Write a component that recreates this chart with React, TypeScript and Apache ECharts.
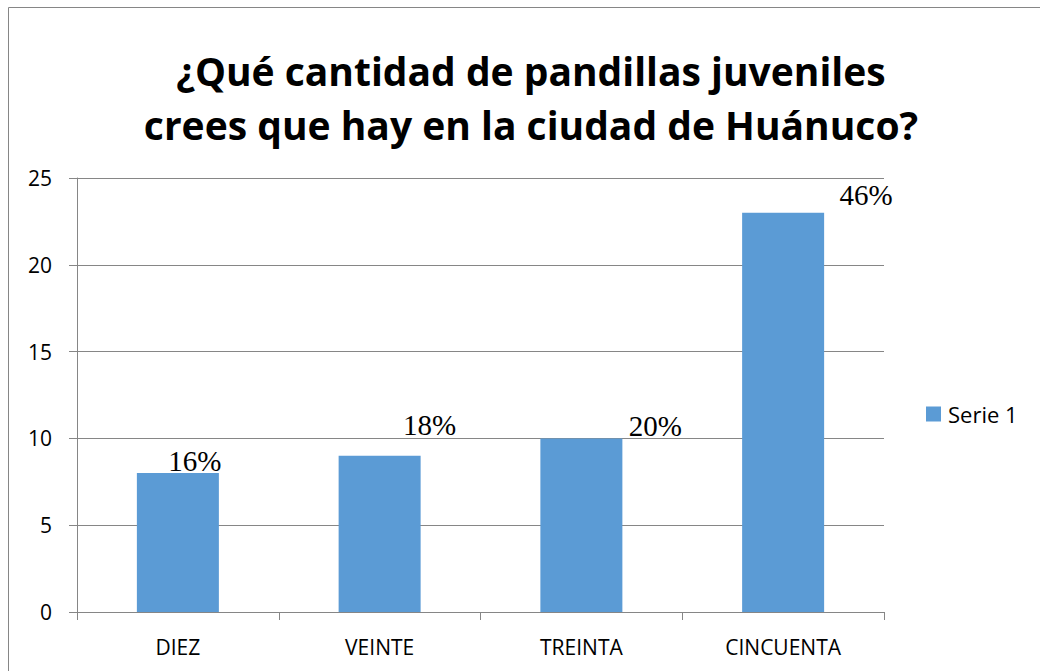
import React, { useEffect, useRef } from "react";
import * as echarts from "echarts";

const categories = ["DIEZ", "VEINTE", "TREINTA", "CINCUENTA"];
const values = [8, 9, 10, 23];
const percentLabels = ["16%", "18%", "20%", "46%"];
const yTicks = [0, 5, 10, 15, 20, 25];
const seriesName = "Serie 1";
const titleText = "¿Qué cantidad de pandillas juveniles\ncrees que hay en la ciudad de Huánuco?";

// label offsets (presentation only)
const labelOffsets: [number, number][] = [
  [17, 2],
  [50, -16],
  [74, 2],
  [83, -3],
];

export default function App() {
  const ref = useRef<HTMLDivElement>(null);
  useEffect(() => {
    document.body.style.margin = "0";
    const chart = echarts.init(ref.current!, null, { renderer: "svg" });
    const sans = "'Open Sans', 'Noto Sans', sans-serif";
    chart.setOption({
      animation: false,
      backgroundColor: "#ffffff",
      title: {
        text: titleText,
        left: 526,
        textAlign: "center",
        top: 38,
        textStyle: {
          fontFamily: sans,
          fontWeight: "bold",
          fontSize: 39,
          lineHeight: 54,
          color: "#000",
        },
      },
      graphic: [
        {
          type: "rect",
          shape: { x: 8.5, y: 7.5, width: 1100, height: 700 },
          style: { fill: "none", stroke: "#868686", lineWidth: 1 },
          silent: true,
        },
      ],
      legend: {
        show: true,
        left: 926,
        top: 403,
        padding: 0,
        itemWidth: 15,
        itemHeight: 15,
        itemGap: 6,
        icon: "rect",
        textStyle: { fontFamily: sans, fontSize: 22, color: "#000", padding: [0, 0, 0, 2] },
        data: [seriesName],
      },
      grid: { left: 77, right: 156, top: 178, bottom: 59, containLabel: false },
      xAxis: {
        type: "category",
        data: categories,
        axisLine: { lineStyle: { color: "#868686", width: 1 } },
        axisTick: { show: true, length: 8, alignWithLabel: false, lineStyle: { color: "#868686" } },
        axisLabel: { fontFamily: sans, fontSize: 21, color: "#000", margin: 24 },
      },
      yAxis: {
        type: "value",
        min: yTicks[0],
        max: yTicks[yTicks.length - 1],
        interval: 5,
        axisLine: { show: true, lineStyle: { color: "#868686", width: 1 } },
        axisTick: { show: true, length: 8, inside: false, lineStyle: { color: "#868686" } },
        splitLine: { show: true, lineStyle: { color: "#868686", width: 1 } },
        axisLabel: { fontFamily: sans, fontSize: 21, color: "#000", margin: 25 },
      },
      series: [
        {
          name: seriesName,
          type: "bar",
          barWidth: 82,
          itemStyle: { color: "#5B9BD5" },
          data: values.map((v, i) => ({
            value: v,
            label: {
              show: true,
              position: "top",
              distance: 0,
              offset: labelOffsets[i],
              formatter: percentLabels[i],
              fontFamily: "'Liberation Serif', 'Times New Roman', serif",
              fontSize: 29,
              color: "#000",
            },
          })),
        },
      ],
    });
    return () => chart.dispose();
  }, []);
  return <div ref={ref} style={{ width: 1040, height: 671 }} />;
}
